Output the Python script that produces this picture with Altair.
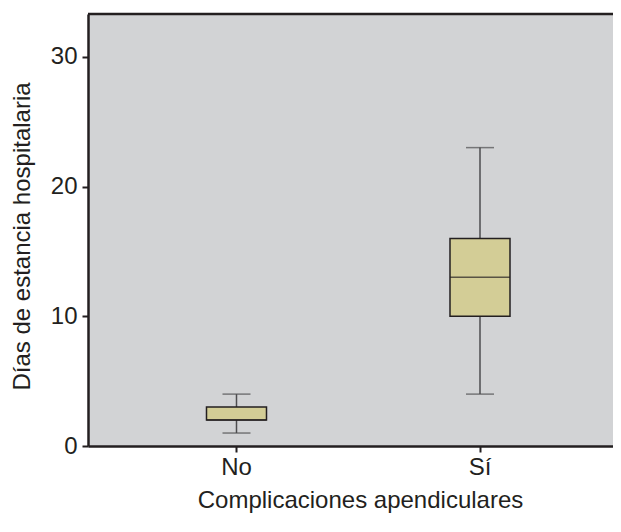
import altair as alt
import pandas as pd

groups = ["No", "Sí"]
mins = [1, 4]
q1s = [2, 10]
medians = [2, 13]
q3s = [3, 16]
maxs = [4, 23]
y_ticks = [0, 10, 20, 30]
YMAX = 33.3

df = pd.DataFrame({"g": groups, "lo": mins, "q1": q1s, "med": medians, "q3": q3s, "hi": maxs})

FONT = "Liberation Sans"
INK = "#231f20"
W, H = 525, 432

xscale = alt.Scale(type="band", domain=groups, paddingInner=0, paddingOuter=0.078, align=0.704)
yscale = alt.Scale(domain=[0, YMAX], nice=False, zero=True)

xenc = alt.X("g:N", scale=xscale, sort=groups,
             axis=alt.Axis(title="Complicaciones apendiculares", labelAngle=0,
                           labelFontSize=24, titleFontSize=24, labelPadding=3,
                           titlePadding=9, tickSize=6, tickWidth=2, tickColor=INK,
                           domain=True, domainColor=INK, domainWidth=2.5,
                           labelColor=INK, titleColor=INK, titleX=272,
                           labelFont=FONT, titleFont=FONT, titleFontWeight="normal"))
yaxis = alt.Axis(title="Días de estancia hospitalaria", values=y_ticks,
                 labelFontSize=24, titleFontSize=24, tickSize=6, tickWidth=2,
                 tickColor=INK, domain=True, domainColor=INK, domainWidth=2.5,
                 grid=False, labelPadding=5, titleY=222,
                 titlePadding=16, labelColor=INK, titleColor=INK,
                 labelFont=FONT, titleFont=FONT, titleFontWeight="normal")

base = alt.Chart(df)

whisk_lo = base.mark_rule(color="#4d4d4f", strokeWidth=1.5).encode(
    x=xenc, y=alt.Y("lo:Q", scale=yscale, axis=yaxis), y2="q1:Q")
whisk_hi = base.mark_rule(color="#4d4d4f", strokeWidth=1.5).encode(
    x=xenc, y=alt.Y("q3:Q", scale=yscale), y2="hi:Q")
box = base.mark_bar(size=60, fill="#d3cd96", stroke=INK, strokeWidth=1.5).encode(
    x=xenc, y=alt.Y("q1:Q", scale=yscale), y2="q3:Q")
med = base.mark_tick(size=60, thickness=1.5, color=INK).encode(
    x=xenc, y=alt.Y("med:Q", scale=yscale))
cap_lo = base.mark_tick(size=28, thickness=1.5, color="#4d4d4f").encode(
    x=xenc, y=alt.Y("lo:Q", scale=yscale))
cap_hi = base.mark_tick(size=28, thickness=1.5, color="#4d4d4f").encode(
    x=xenc, y=alt.Y("hi:Q", scale=yscale))

top_border = alt.Chart(pd.DataFrame({"top": [YMAX]})).mark_rule(
    color=INK, strokeWidth=2.5).encode(
    y=alt.Y("top:Q", scale=yscale), x=alt.value(0), x2=alt.value(W))

chart = alt.layer(whisk_lo, whisk_hi, box, med, cap_lo, cap_hi, top_border).properties(
    width=W, height=H,
    autosize=alt.AutoSizeParams(type="none"),
    padding={"left": 80, "top": 6, "right": 0, "bottom": 74},
    background="white",
).configure_view(fill="#d2d3d5", stroke=None)

chart.save("out.html", embed_options={"renderer": "svg", "actions": False})
